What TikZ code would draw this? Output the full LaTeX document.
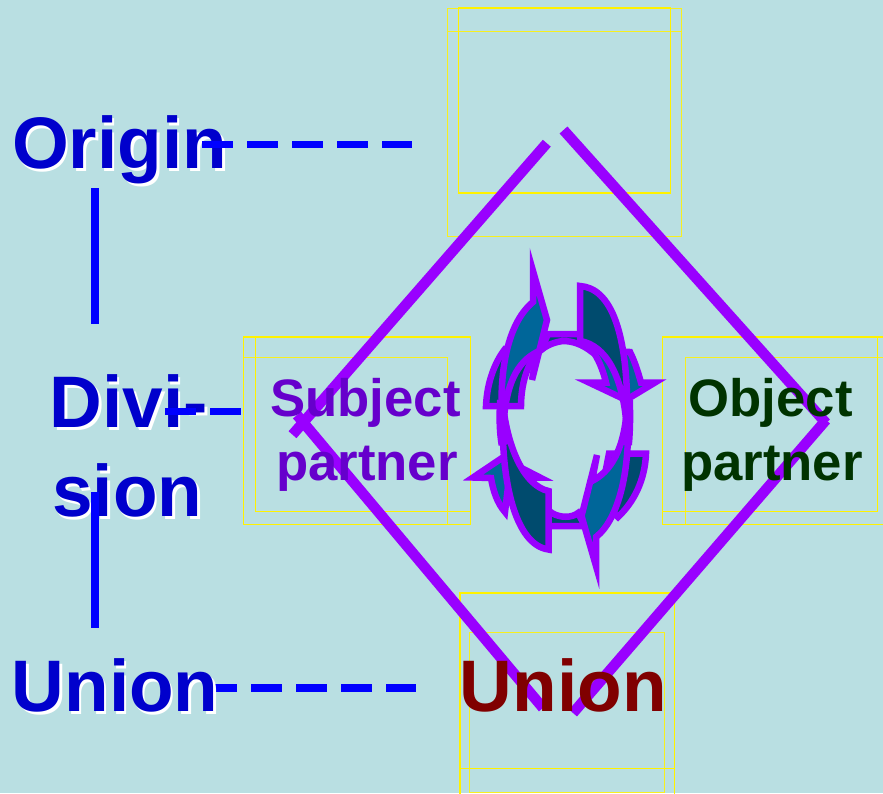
\documentclass[tikz,border=0pt]{standalone}
\usepackage{fontspec}
\setmainfont{Liberation Sans}[BoldFont={Liberation Sans Bold}]
\definecolor{bgc}{HTML}{B9DFE2}
\definecolor{vio}{HTML}{9900FF}
\definecolor{lite}{HTML}{006699}
\definecolor{dark}{HTML}{004B6E}
\definecolor{dashblue}{HTML}{0000FF}
\definecolor{headblue}{HTML}{0000CC}
\definecolor{subjc}{HTML}{6600CC}
\definecolor{objc}{HTML}{003300}
\definecolor{unionc}{HTML}{800000}
\tikzset{
  x=1pt,y=-1pt,
  ybox/.style={draw=yellow,line width=1.1pt},
  ybox2/.style={draw=yellow!88!bgc,line width=0.9pt},
  dia/.style={draw=vio,line width=10.5pt},
  dashln/.style={draw=dashblue,line width=7.5pt,dash pattern=on 31pt off 14pt},
  vln/.style={draw=dashblue,line width=8pt},
  txt/.style={anchor=base west,inner sep=0pt,font=\fontsize{73}{73}\selectfont\bfseries},
  head/.style={txt,text=headblue},
  shade/.style={txt,text=white},
  small/.style={anchor=base west,inner sep=0pt,font=\fontsize{52.7}{52.7}\selectfont\bfseries},
  lt/.style={fill=lite,draw=vio,line width=6.5pt,miter limit=10},
  dk/.style={fill=dark,draw=vio,line width=6.5pt,miter limit=10},
  ringln/.style={draw=vio,line width=10pt}
}
\begin{document}
\begin{tikzpicture}
\useasboundingbox (0,0) rectangle (883,793);
\fill[bgc] (0,0) rectangle (883,793);
\begin{scope}
\clip (0,0) rectangle (883,793);
% yellow frames
\draw[ybox2] (447.5,8) rectangle (681,236);
\draw[ybox2] (447.5,31.5) rectangle (681,236);
\draw[ybox] (458.3,8) rectangle (670.7,193);
\draw[ybox2] (243.3,357.7) rectangle (447.7,524.3);
\draw[ybox] (243.3,337) rectangle (470.7,524.3);
\draw[ybox] (255.7,337) rectangle (470.7,511.7);
\draw[ybox2] (685.7,357.7) rectangle (900,524.3);
\draw[ybox] (662.3,337) rectangle (900,524.3);
\draw[ybox] (662.3,337) rectangle (877.3,511.7);
\draw[ybox2] (469.3,632.7) rectangle (664.3,792.3);
\draw[ybox] (460,593) rectangle (674.3,800);
\draw[ybox] (460,593) rectangle (674.3,768.3);
\end{scope}
% diamond
\coordinate (dTL) at (546.8,143.2);
\coordinate (dL1) at (292.5,434.7);
\coordinate (dL2) at (297,415);
\coordinate (dB1) at (543,708);
\coordinate (dTR) at (563.5,130);
\coordinate (dR1) at (826,423);
\coordinate (dR2) at (826,420);
\coordinate (dB2) at (573,713);
\draw[dia] (dTL) -- (dL1);
\draw[dia] (dL2) -- (dB1);
\draw[dia] (dTR) -- (dR1);
\draw[dia] (dR2) -- (dB2);
% back parts, top
\draw[dk] (541,350) -- (548,334) -- (580,334) -- (592,352) .. controls (582,344) and (572,341) .. (563,341) .. controls (555,342) and (547,345) .. cycle;
\draw[dk] (486,406) .. controls (487,382) and (495,362) .. (505,349) -- (541,350) .. controls (530,358) and (521,380) .. (521,406) -- cycle;
% top right head
\draw[lt] (630,352) .. controls (635,362) and (638,372) .. (641,382.5) -- (655,382.5) -- (626,400) -- (589,382.5) -- (606,382.5) .. controls (603,370) and (598,358) .. (592,350) -- cycle;
% top right crescent
\draw[dk] (580,286) -- (580,341) .. controls (605,345) and (624,375) .. (627,432) .. controls (630,330) and (610,288) .. (580,286) -- cycle;
% top left arrow
\draw[lt] (533,302) -- (533,271) -- (547,320) -- (532,380) -- (537,352) .. controls (518,362) and (505,382) .. (503,432) .. controls (498,380) and (505,325) .. (533,302) -- cycle;
% back parts, bottom
\draw[dk] (548,526) -- (585,526) -- (578,513) .. controls (572,518) and (560,518) .. (552,513) -- (548,510) -- cycle;
\draw[dk] (609,453.5) -- (646,453.5) .. controls (645,480) and (634,502) .. (618,517) -- (600,500) -- cycle;
% bottom left head
\draw[lt] (505,512) .. controls (497,503) and (493,490) .. (491,478) -- (473,477.5) -- (502,458) -- (540,477.5) -- (522,477.5) -- (510,470) -- cycle;
% bottom left crescent
\draw[dk] (548.5,549.5) -- (548.5,491) .. controls (525,486) and (508,450) .. (503,405) .. controls (500,480) and (515,545) .. (548.5,549.5) -- cycle;
% bottom right arrow
\draw[lt] (596,537) -- (596,566) -- (581.5,516) -- (597,455) -- (592,481) .. controls (610,472) and (625,450) .. (627,405) .. controls (632,470) and (618,520) .. (596,537) -- cycle;
% ring sides
\coordinate (rl1) at (502,400);
\coordinate (rl2) at (503.5,445);
\coordinate (rr1) at (628,400);
\coordinate (rr2) at (627,445);
\draw[ringln] (rl1) .. controls (501,415) and (501,430) .. (rl2);
\draw[ringln] (rr1) .. controls (628.5,415) and (628.5,430) .. (rr2);
% union connector lies under its text
\coordinate (c1) at (206,688);
\coordinate (c2) at (416,688);
\draw[dashln] (c1) -- (c2);
% text
\node[shade] (os) at (14.5,171) {Origin};
\node[head] (o) at (12,168.3) {Origin};
\node[shade] (d1s) at (52,430) {Divi-};
\node[head] (d1) at (49.5,427.3) {Divi-};
\node[shade] (d2s) at (54.5,519.5) {sion};
\node[head] (d2) at (52,516.7) {sion};
\node[shade] (us) at (14,714.5) {Union};
\node[head] (u) at (11.5,711.7) {Union};
\node[txt,text=unionc] (ur) at (459.7,711.7) {Union};
\node[small,text=subjc] (s1) at (270,416.7) {Subject};
\node[small,text=subjc] (s2) at (276,480) {partner};
\node[small,text=objc] (o1) at (688.5,416.7) {Object};
\node[small,text=objc] (o2) at (681,480) {partner};
% blue connectors
\coordinate (a1) at (202,144.3);
\coordinate (a2) at (412,144.3);
\coordinate (b1) at (165,411.3);
\coordinate (b2) at (241,411.3);
\coordinate (v1) at (95,188);
\coordinate (v2) at (95,324);
\coordinate (v3) at (95,492);
\coordinate (v4) at (95,628);
\draw[dashln] (a1) -- (a2);
\draw[dashln] (b1) -- (b2);
\draw[vln] (v1) -- (v2);
\draw[vln] (v3) -- (v4);
\end{tikzpicture}
\end{document}
